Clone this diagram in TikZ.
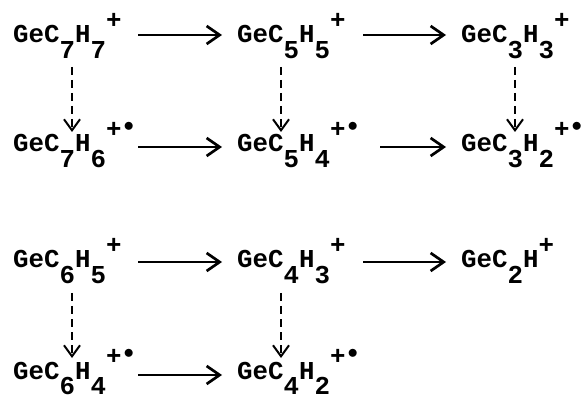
\documentclass[tikz,border=0pt]{standalone}
\usepackage{fontspec}
\setmonofont{Liberation Mono}
\usetikzlibrary{arrows.meta}

\newcommand{\chemlo}[1]{\raisebox{-0.62em}{#1}}
\newcommand{\chemhi}[1]{\raisebox{0.58em}{#1}}
\newcommand{\rad}{\hspace{2pt}\raisebox{0.2em}{\fontsize{22}{22}\selectfont$\bullet$}}

\tikzset{
  ion/.style={anchor=base west,inner sep=0pt,font=\ttfamily\bfseries\fontsize{25.8}{30}\selectfont},
  fwd/.style={line width=2.7pt,-{Straight Barb[length=13pt,width=18pt]}},
  loss/.style={line width=2pt,dash pattern=on 8pt off 5pt,-{Straight Barb[length=11pt,width=16pt]}}
}

\begin{document}
\begin{tikzpicture}[x=1pt,y=1pt]
\useasboundingbox (0,0) rectangle (588,396);

\node[ion] (c7h7) at (13,353) {GeC\chemlo{7}H\chemlo{7}\chemhi{+}};
\node[ion] (c5h5) at (237,353) {GeC\chemlo{5}H\chemlo{5}\chemhi{+}};
\node[ion] (c3h3) at (461,353) {GeC\chemlo{3}H\chemlo{3}\chemhi{+}};

\node[ion] (c7h6) at (13,244) {GeC\chemlo{7}H\chemlo{6}\chemhi{+\rad}};
\node[ion] (c5h4) at (237,244) {GeC\chemlo{5}H\chemlo{4}\chemhi{+\rad}};
\node[ion] (c3h2) at (461,244) {GeC\chemlo{3}H\chemlo{2}\chemhi{+\rad}};

\node[ion] (c6h5) at (13,128) {GeC\chemlo{6}H\chemlo{5}\chemhi{+}};
\node[ion] (c4h3) at (237,128) {GeC\chemlo{4}H\chemlo{3}\chemhi{+}};
\node[ion] (c2h) at (461,128) {GeC\chemlo{2}H\chemhi{+}};

\node[ion] (c6h4) at (13,17) {GeC\chemlo{6}H\chemlo{4}\chemhi{+\rad}};
\node[ion] (c4h2) at (237,17) {GeC\chemlo{4}H\chemlo{2}\chemhi{+\rad}};

% H2 loss, left to right
\draw[fwd] ([shift={(125,8)}]c7h7.base west) -- ([shift={(-15,8)}]c5h5.base west);
\draw[fwd] ([shift={(126,8)}]c5h5.base west) -- ([shift={(-15,8)}]c3h3.base west);
\draw[fwd] ([shift={(125,5)}]c7h6.base west) -- ([shift={(-15,5)}]c5h4.base west);
\draw[fwd] ([shift={(143,5)}]c5h4.base west) -- ([shift={(-15,5)}]c3h2.base west);
\draw[fwd] ([shift={(125,6)}]c6h5.base west) -- ([shift={(-15,6)}]c4h3.base west);
\draw[fwd] ([shift={(126,6)}]c4h3.base west) -- ([shift={(-15,6)}]c2h.base west);
\draw[fwd] ([shift={(125,4)}]c6h4.base west) -- ([shift={(-15,4)}]c4h2.base west);

% H loss, top to bottom
\draw[loss] ([shift={(59,-24)}]c7h7.base west) -- ([shift={(59,20)}]c7h6.base west);
\draw[loss] ([shift={(44,-24)}]c5h5.base west) -- ([shift={(44,20)}]c5h4.base west);
\draw[loss] ([shift={(54,-24)}]c3h3.base west) -- ([shift={(54,20)}]c3h2.base west);
\draw[loss] ([shift={(59,-25)}]c6h5.base west) -- ([shift={(59,21)}]c6h4.base west);
\draw[loss] ([shift={(44,-25)}]c4h3.base west) -- ([shift={(44,21)}]c4h2.base west);
\end{tikzpicture}
\end{document}
